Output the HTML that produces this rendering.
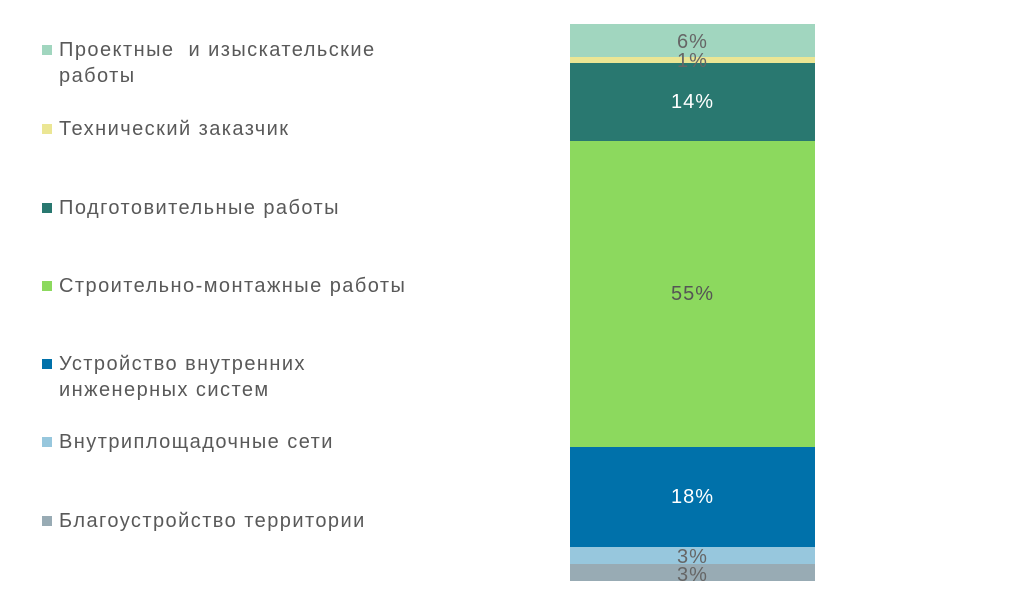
<!DOCTYPE html>
<html><head><meta charset="utf-8"><style>
body{margin:0;width:1024px;height:605px;background:#fff;position:relative;overflow:hidden;font-family:"Liberation Sans",sans-serif;color:#595959}
.seg{position:absolute;left:570px;width:245px;display:flex;align-items:center;justify-content:center;font-size:20px;letter-spacing:1px}
.lb{position:absolute;left:570px;width:245px;text-align:center;font-size:20px;letter-spacing:1px;color:#666;line-height:20px}
.lg{position:absolute;left:42px;font-size:20px;line-height:26px;letter-spacing:1.45px}
.sq{position:absolute;left:0;top:8px;width:10px;height:10px}
.t{margin-left:17px}
</style></head><body>
<div class="seg" style="top:24px;height:33px;background:#a1d6bf"></div>
<div class="seg" style="top:57px;height:6px;background:#ebe694"></div>
<div class="seg" style="top:63px;height:78px;background:#297870;color:#fff">14%</div>
<div class="seg" style="top:141px;height:306px;background:#8cd95e;color:#555">55%</div>
<div class="seg" style="top:447px;height:100px;background:#0071aa;color:#fff">18%</div>
<div class="seg" style="top:547px;height:17px;background:#97c7dd"></div>
<div class="seg" style="top:564px;height:17px;background:#98abb4"></div>
<div class="lb" style="top:32px">6%</div>
<div class="lb" style="top:51px">1%</div>
<div class="lb" style="top:547px">3%</div>
<div class="lb" style="top:565px">3%</div>
<div class="lg" style="top:37px"><div class="sq" style="background:#a1d6bf"></div><div class="t">Проектные&nbsp; и изыскательские<br>работы</div></div>
<div class="lg" style="top:116px"><div class="sq" style="background:#ebe694"></div><div class="t">Технический заказчик</div></div>
<div class="lg" style="top:195px"><div class="sq" style="background:#297870"></div><div class="t">Подготовительные работы</div></div>
<div class="lg" style="top:273px"><div class="sq" style="background:#8cd95e"></div><div class="t">Строительно-монтажные работы</div></div>
<div class="lg" style="top:351px"><div class="sq" style="background:#0071aa"></div><div class="t">Устройство внутренних<br>инженерных систем</div></div>
<div class="lg" style="top:429px"><div class="sq" style="background:#97c7dd"></div><div class="t">Внутриплощадочные сети</div></div>
<div class="lg" style="top:508px"><div class="sq" style="background:#98abb4"></div><div class="t">Благоустройство территории</div></div>
</body></html>
